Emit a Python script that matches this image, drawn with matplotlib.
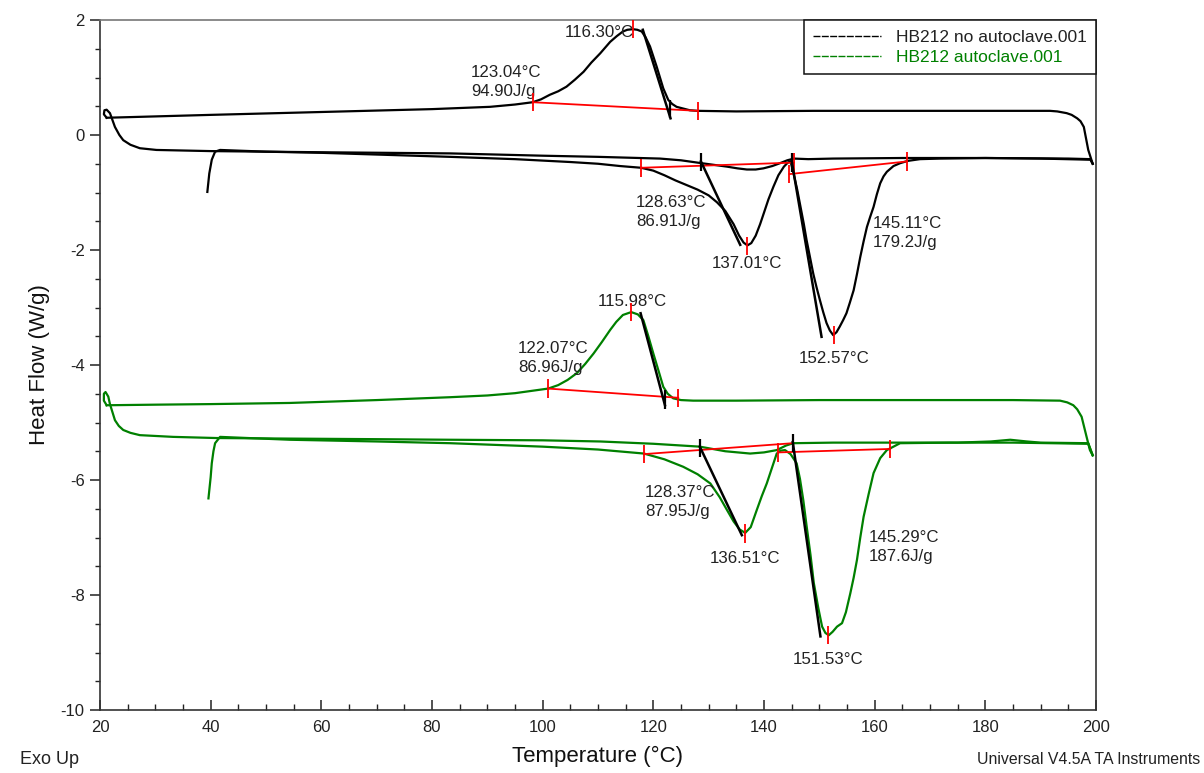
import matplotlib
matplotlib.use("Agg")
import matplotlib.pyplot as plt
from matplotlib.ticker import MultipleLocator
from matplotlib.lines import Line2D

plt.rcParams['font.family'] = ['Liberation Sans', 'DejaVu Sans']
plt.rcParams['axes.unicode_minus'] = False

# ---------------- data (Temperature °C, Heat Flow W/g) ----------------
# HB212 no autoclave: cooling scan (200 -> 21 °C)
bk_cool_T = [199.4, 198.6, 197.8, 197.2, 196.6, 195.6, 194.7, 193.0, 191.7, 185, 175, 160, 148.9, 135,
             128.1, 126.6, 125.4, 124.2, 123.4, 122.7, 121.8, 121.2, 120.6, 119.4, 118.6, 117.9, 117.1,
             116.3, 115.3, 114.5, 113.4, 112.2, 110.4, 108.8, 107.4, 105.8, 104.3, 102.8, 101.3, 99.7,
             98.2, 95, 90.5, 80, 60, 40, 25, 21.2]
bk_cool_W = [-0.50, -0.26, 0.14, 0.24, 0.29, 0.35, 0.38, 0.41, 0.42, 0.42, 0.42, 0.42, 0.42, 0.41,
             0.42, 0.43, 0.46, 0.49, 0.54, 0.61, 0.81, 1.00, 1.19, 1.54, 1.70, 1.80, 1.83,
             1.84, 1.83, 1.80, 1.72, 1.62, 1.42, 1.26, 1.10, 0.96, 0.84, 0.76, 0.70, 0.62,
             0.57, 0.53, 0.49, 0.45, 0.40, 0.35, 0.31, 0.30]
# HB212 no autoclave: second heating (starts after isothermal loop at 21 °C)
bk_heat2_T = [21.2, 20.7, 20.8, 21.2, 21.8, 22.7, 23.5, 24.2, 25.5, 27.2, 30.2, 40, 60, 83.3, 100, 110,
              121.2, 125, 128.7, 131, 133.3, 135.2, 136.9, 138.5, 139.9, 141.5, 142.9, 144.2, 145.4, 148,
              152.5, 165, 180, 195, 199.0, 199.4]
bk_heat2_W = [0.30, 0.36, 0.43, 0.44, 0.38, 0.14, 0.00, -0.09, -0.17, -0.23, -0.26, -0.28, -0.30, -0.32,
              -0.36, -0.38, -0.41, -0.44, -0.49, -0.52, -0.55, -0.58, -0.60, -0.60, -0.58, -0.54, -0.49,
              -0.44, -0.41, -0.42, -0.41, -0.40, -0.40, -0.41, -0.42, -0.50]
# HB212 no autoclave: first heating (starts at 40 °C)
bk_heat1_T = [39.4, 39.75, 40.2, 40.8, 41.7, 50, 60, 70, 83.3, 95, 105, 110, 114, 117.8, 120, 122, 124,
              126, 128, 130, 131.5, 133, 134.5, 135.5, 136.3, 137.0, 137.7, 138.5, 139.3, 140.0, 140.8,
              141.7, 142.6, 143.6, 144.3, 144.8, 145.3, 146.0, 146.6, 147.2, 147.7, 148.3, 148.9, 149.5,
              150.1, 150.7, 151.3, 151.9, 152.5, 153.1, 153.7, 154.3, 154.9, 155.5, 156.2, 156.8, 157.4,
              158.0, 158.6, 159.2, 159.8, 160.4, 161.0, 161.6, 162.2, 163.4, 164.6, 166, 168.2, 171.8,
              180, 190, 199.0, 199.4]
bk_heat1_W = [-0.99, -0.67, -0.43, -0.29, -0.26, -0.29, -0.31, -0.34, -0.38, -0.42, -0.47, -0.50, -0.54,
              -0.57, -0.62, -0.70, -0.79, -0.87, -0.95, -1.05, -1.17, -1.32, -1.55, -1.75, -1.87, -1.92,
              -1.88, -1.75, -1.55, -1.35, -1.12, -0.90, -0.70, -0.55, -0.48, -0.46, -0.65, -0.95, -1.25,
              -1.55, -1.83, -2.12, -2.41, -2.65, -2.87, -3.08, -3.27, -3.40, -3.48, -3.43, -3.33, -3.22,
              -3.10, -2.92, -2.70, -2.42, -2.12, -1.85, -1.60, -1.42, -1.25, -1.03, -0.84, -0.72, -0.64,
              -0.54, -0.49, -0.45, -0.42, -0.41, -0.40, -0.41, -0.43, -0.50]

# HB212 autoclave: cooling scan
gr_cool_T = [199.4, 198.9, 198.3, 197.4, 196.6, 195.9, 194.8, 193.5, 185, 170, 150, 135, 127.2, 125,
             123.6, 122.6, 121.8, 121.0, 120.0, 119.1, 118.2, 117.2, 116.0, 114.5, 113.3, 112.2, 110.7,
             109.2, 107.7, 106.2, 104.5, 102.8, 101.0, 95, 90, 83.3, 70, 54.3, 40, 30, 21.2]
gr_cool_W = [-5.57, -5.48, -5.25, -4.90, -4.77, -4.70, -4.65, -4.62, -4.61, -4.61, -4.61, -4.62, -4.62,
             -4.61, -4.58, -4.50, -4.38, -4.12, -3.80, -3.50, -3.22, -3.12, -3.08, -3.13, -3.25, -3.39,
             -3.60, -3.80, -3.98, -4.14, -4.26, -4.35, -4.41, -4.49, -4.53, -4.56, -4.61, -4.66, -4.68,
             -4.69, -4.70]
# HB212 autoclave: second heating
gr_heat2_T = [21.2, 20.7, 20.7, 21.0, 21.5, 21.8, 22.7, 23.4, 24.2, 25.5, 27.2, 33.2, 41, 54.3, 70, 83.3,
              100, 110.4, 120, 128.4, 133, 137.5, 140, 142.3, 144, 145.3, 152.5, 175, 181, 184.5, 187.5,
              190, 198.6, 199.4]
gr_heat2_W = [-4.70, -4.62, -4.50, -4.47, -4.55, -4.68, -4.96, -5.06, -5.13, -5.18, -5.22, -5.25, -5.27,
              -5.28, -5.29, -5.30, -5.31, -5.33, -5.37, -5.42, -5.50, -5.54, -5.52, -5.48, -5.40, -5.36,
              -5.35, -5.35, -5.33, -5.30, -5.33, -5.35, -5.36, -5.57]
# HB212 autoclave: first heating
gr_heat1_T = [39.6, 40.0, 40.2, 40.5, 40.8, 41.7, 54.3, 70, 83.3, 100, 110, 118.3, 122, 125.4, 128, 130.3,
              132, 133.3, 134.5, 135.6, 136.6, 137.6, 138.7, 139.6, 140.5, 141.4, 142.3, 143.0, 143.8,
              144.8, 145.9, 146.5, 147.1, 147.7, 148.4, 149.0, 149.8, 150.5, 151.1, 151.7, 152.4, 153.2,
              154.1, 154.8, 155.6, 156.2, 156.8, 157.4, 158.0, 158.9, 159.8, 161.0, 162.2, 164.6, 173.6,
              185, 198.6, 199.4]
gr_heat1_W = [-6.32, -5.95, -5.71, -5.50, -5.36, -5.25, -5.30, -5.33, -5.36, -5.42, -5.47, -5.54, -5.64,
              -5.77, -5.90, -6.06, -6.30, -6.52, -6.72, -6.86, -6.92, -6.82, -6.52, -6.28, -6.06, -5.80,
              -5.54, -5.49, -5.48, -5.55, -5.71, -5.98, -6.35, -6.80, -7.30, -7.79, -8.22, -8.55, -8.66,
              -8.70, -8.64, -8.55, -8.49, -8.30, -7.97, -7.70, -7.39, -7.00, -6.64, -6.25, -5.88, -5.62,
              -5.48, -5.36, -5.35, -5.35, -5.37, -5.57]

# Analysis results: integration baselines (start T, start W, end T, end W)
base_T0 = [98.2, 117.8, 144.6, 101.0, 118.3, 142.6]
base_W0 = [0.57, -0.57, -0.68, -4.41, -5.55, -5.52]
base_T1 = [128.1, 145.4, 165.8, 124.5, 145.2, 162.8]
base_W1 = [0.42, -0.48, -0.46, -4.57, -5.36, -5.46]

# Onset tangents (onset T, onset W, tangent end T, tangent end W)
onset_T = [123.04, 128.63, 145.11, 122.07, 128.37, 145.29]
onset_W = [0.45, -0.47, -0.48, -4.60, -5.44, -5.36]
tan_T0 = [118.1, 128.6, 145.0, 117.7, 128.4, 145.2]
tan_W0 = [1.83, -0.46, -0.45, -3.10, -5.42, -5.34]
tan_T1 = [123.1, 135.7, 150.4, 122.1, 136.0, 150.2]
tan_W1 = [0.29, -1.91, -3.51, -4.70, -6.96, -8.72]

# Peak temperatures
peak_T = [116.30, 137.01, 152.57, 115.98, 136.51, 151.53]
peak_W = [1.84, -1.93, -3.48, -3.08, -6.93, -8.70]

legend_labels = ['HB212 no autoclave.001', 'HB212 autoclave.001']
x_label = 'Temperature (°C)'
y_label = 'Heat Flow (W/g)'

# ---------------- figure ----------------
BLACK = '#000000'
GREEN = '#008000'
RED = '#ff0000'

fig = plt.figure(figsize=(12.04, 7.73), dpi=100)
ax = fig.add_axes([100 / 1204, 1 - 710 / 773, 996 / 1204, 690 / 773])

lw = 1.6
ax.plot(bk_cool_T, bk_cool_W, color=BLACK, lw=lw)
ax.plot(bk_heat2_T, bk_heat2_W, color=BLACK, lw=lw)
ax.plot(bk_heat1_T, bk_heat1_W, color=BLACK, lw=lw)
ax.plot(gr_cool_T, gr_cool_W, color=GREEN, lw=lw)
ax.plot(gr_heat2_T, gr_heat2_W, color=GREEN, lw=lw)
ax.plot(gr_heat1_T, gr_heat1_W, color=GREEN, lw=lw)

h = 0.16  # half height of marker ticks (W/g)
for t0, w0, t1, w1 in zip(base_T0, base_W0, base_T1, base_W1):
    ax.plot([t0, t1], [w0, w1], color=RED, lw=1.3, zorder=4)
    ax.vlines([t0, t1], [w0 - h, w1 - h], [w0 + h, w1 + h], color=RED, lw=1.3, zorder=4)
for t0, w0, t1, w1 in zip(tan_T0, tan_W0, tan_T1, tan_W1):
    ax.plot([t0, t1], [w0, w1], color=BLACK, lw=1.8, zorder=5)
ax.vlines(onset_T, [w - h for w in onset_W], [w + h for w in onset_W], color=BLACK, lw=1.6, zorder=5)
ax.vlines(peak_T, [w - h for w in peak_W], [w + h for w in peak_W], color=RED, lw=1.3, zorder=5)

fs = 12.2
tc = '#222222'
ls = 1.32
ax.text(116.4, 1.79, '116.30°C', ha='right', va='center', fontsize=fs, color=tc)
ax.text(87.05, 0.92, '123.04°C\n94.90J/g', ha='left', va='center', fontsize=fs, color=tc, linespacing=ls)
ax.text(116.9, -1.34, '128.63°C\n86.91J/g', ha='left', va='center', fontsize=fs, color=tc, linespacing=ls)
ax.text(136.9, -2.23, '137.01°C', ha='center', va='center', fontsize=fs, color=tc)
ax.text(159.6, -1.70, '145.11°C\n179.2J/g', ha='left', va='center', fontsize=fs, color=tc, linespacing=ls)
ax.text(152.6, -3.88, '152.57°C', ha='center', va='center', fontsize=fs, color=tc)
ax.text(116.15, -2.90, '115.98°C', ha='center', va='center', fontsize=fs, color=tc)
ax.text(95.5, -3.88, '122.07°C\n86.96J/g', ha='left', va='center', fontsize=fs, color=tc, linespacing=ls)
ax.text(118.5, -6.38, '128.37°C\n87.95J/g', ha='left', va='center', fontsize=fs, color=tc, linespacing=ls)
ax.text(136.6, -7.36, '136.51°C', ha='center', va='center', fontsize=fs, color=tc)
ax.text(158.9, -7.16, '145.29°C\n187.6J/g', ha='left', va='center', fontsize=fs, color=tc, linespacing=ls)
ax.text(151.6, -9.13, '151.53°C', ha='center', va='center', fontsize=fs, color=tc)

ax.set_xlim(20, 200)
ax.set_ylim(-10, 2)
ax.xaxis.set_major_locator(MultipleLocator(20))
ax.xaxis.set_minor_locator(MultipleLocator(5))
ax.yaxis.set_major_locator(MultipleLocator(2))
ax.yaxis.set_minor_locator(MultipleLocator(0.5))
ax.tick_params(axis='x', which='major', direction='in', length=7, width=1.1, labelsize=12, pad=7, colors='#222222')
ax.tick_params(axis='x', which='minor', direction='in', length=4, width=1.0, colors='#222222')
ax.tick_params(axis='y', which='major', direction='out', length=7, width=1.1, labelsize=12, pad=4, colors='#222222')
ax.tick_params(axis='y', which='minor', direction='out', length=3.5, width=1.0, colors='#222222')
for s in ax.spines.values():
    s.set_color('#333333')
    s.set_linewidth(1.2)
ax.spines['top'].set_color('#777777')

ax.set_xlabel(x_label, fontsize=16, labelpad=8, color='#111111')
ax.set_ylabel(y_label, fontsize=16, labelpad=8, color='#111111')

handles = [Line2D([], [], color=BLACK, lw=1.0, ls=(0, (5, 1))),
           Line2D([], [], color=GREEN, lw=1.0, ls=(0, (5, 1)))]
leg = ax.legend(handles, legend_labels, loc='upper right', borderaxespad=0, fancybox=False,
                edgecolor='#111111', framealpha=1, fontsize=12.5, handlelength=3.9,
                handletextpad=0.85, labelspacing=0.28, borderpad=0.55)
leg.get_frame().set_linewidth(1.1)
leg.get_texts()[0].set_color('#222222')
leg.get_texts()[1].set_color(GREEN)

fig.text(20 / 1204, 1 - 759 / 773, 'Exo Up', ha='left', va='center', fontsize=13, color='#222222')
fig.text(1200 / 1204, 1 - 759 / 773, 'Universal V4.5A TA Instruments', ha='right', va='center',
         fontsize=11.4, color='#222222')

fig.savefig('out.png', dpi=100)
